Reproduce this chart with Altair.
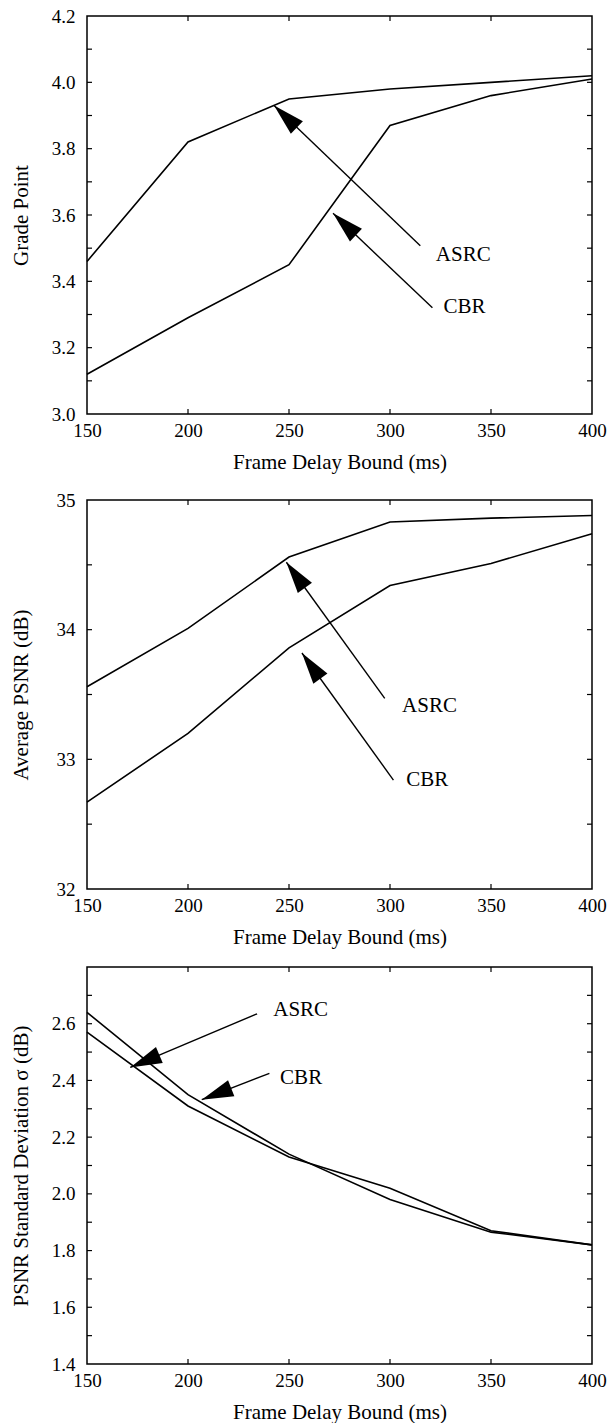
import math
import altair as alt
import pandas as pd

# ---------------- data ----------------
delay = [150, 200, 250, 300, 350, 400]

grade_asrc = [3.46, 3.82, 3.95, 3.98, 4.00, 4.02]
grade_cbr = [3.12, 3.29, 3.45, 3.87, 3.96, 4.01]

psnr_asrc = [33.56, 34.01, 34.56, 34.83, 34.86, 34.88]
psnr_cbr = [32.67, 33.20, 33.86, 34.34, 34.51, 34.74]

std_asrc = [2.57, 2.31, 2.13, 2.02, 1.87, 1.82]
std_cbr = [2.64, 2.35, 2.14, 1.98, 1.865, 1.82]

x_tick_marks = [200, 250, 300, 350]

grade_labels = [3.0, 3.2, 3.4, 3.6, 3.8, 4.0, 4.2]
grade_ticks = [3.1, 3.2, 3.3, 3.4, 3.5, 3.6, 3.7, 3.8, 3.9, 4.0, 4.1]
psnr_labels = [32, 33, 34, 35]
psnr_ticks = [32.5, 33, 33.5, 34, 34.5]
std_labels = [1.4, 1.6, 1.8, 2.0, 2.2, 2.4, 2.6]
std_ticks = [1.5, 1.6, 1.7, 1.8, 1.9, 2.0, 2.1, 2.2, 2.3, 2.4, 2.5, 2.6, 2.7]

# annotations: label, tail x, tail y, head x, head y, text x, text y
grade_arrows = [
    ["ASRC", 315, 3.507, 242.6, 3.93, 322.7, 3.48],
    ["CBR", 321, 3.32, 271.8, 3.605, 326.5, 3.323],
]
psnr_arrows = [
    ["ASRC", 297.4, 33.47, 248.7, 34.52, 306, 33.41],
    ["CBR", 301.7, 32.84, 256.4, 33.82, 308, 32.84],
]
std_arrows = [
    ["ASRC", 234.2, 2.635, 171.4, 2.446, 242.2, 2.647],
    ["CBR", 240.3, 2.425, 206.8, 2.332, 245.6, 2.41],
]

FONT = "Liberation Serif"
W = 505
ARROW_PATH = "M0,0L0.55,2L-0.55,2Z"


def panel(a_vals, b_vals, ymin, ymax, ylabels, yticks, fmt, ytitle, arrows, h):
    rows = [{"x": x, "y": v, "s": "ASRC"} for x, v in zip(delay, a_vals)]
    rows += [{"x": x, "y": v, "s": "CBR"} for x, v in zip(delay, b_vals)]
    df = pd.DataFrame(rows)

    xs = alt.Scale(domain=[150, 400], nice=False, zero=False)
    ys = alt.Scale(domain=[ymin, ymax], nice=False, zero=False)

    xaxis = alt.Axis(values=delay, format="d", ticks=False, domain=False, grid=False,
                     labelPadding=7, labelFlush=False, labelOverlap=False,
                     title="Frame Delay Bound (ms)",
                     titleY=48, titleBaseline="middle")
    yaxis = alt.Axis(values=ylabels, format=fmt, ticks=False, domain=False, grid=False,
                     labelPadding=12, labelOverlap=False, title=ytitle, titleX=-66,
                     titleY=h / 2, titleBaseline="middle")

    def X(f):
        return alt.X(f, scale=xs, axis=xaxis)

    def Y(f):
        return alt.Y(f, scale=ys, axis=yaxis)

    lines = alt.Chart(df).mark_line(color="black", strokeWidth=1.6).encode(
        x=X("x:Q"), y=Y("y:Q"), detail="s:N")

    ydf = pd.DataFrame({"t": yticks})
    xdf = pd.DataFrame({"t": x_tick_marks})
    left = alt.Chart(ydf).mark_rule(color="black", strokeWidth=1.2).encode(
        y=Y("t:Q"), x=alt.value(0), x2=alt.value(5))
    right = alt.Chart(ydf).mark_rule(color="black", strokeWidth=1.2).encode(
        y=Y("t:Q"), x=alt.value(W - 5), x2=alt.value(W))
    top = alt.Chart(xdf).mark_rule(color="black", strokeWidth=1.2).encode(
        x=X("t:Q"), y=alt.value(0), y2=alt.value(5))
    bottom = alt.Chart(xdf).mark_rule(color="black", strokeWidth=1.2).encode(
        x=X("t:Q"), y=alt.value(h - 5), y2=alt.value(h))

    px_x = W / 250.0
    px_y = h / (ymax - ymin)
    arows = []
    for lab, tx, ty, hx, hy, lx, ly in arrows:
        dx = (hx - tx) * px_x
        dy = -(hy - ty) * px_y
        ang = math.degrees(math.atan2(dx, -dy)) % 360
        arows.append({"lab": lab, "tx": tx, "ty": ty, "hx": hx, "hy": hy,
                      "lx": lx, "ly": ly, "ang": ang})
    adf = pd.DataFrame(arows)

    shafts = alt.Chart(adf).mark_rule(color="black", strokeWidth=1.4).encode(
        x=X("tx:Q"), y=Y("ty:Q"), x2="hx:Q", y2="hy:Q")
    heads = alt.Chart(adf).mark_point(shape=ARROW_PATH, filled=True, color="black",
                                      opacity=1, size=1000, strokeWidth=0).encode(
        x=X("hx:Q"), y=Y("hy:Q"), angle=alt.Angle("ang:Q", scale=None))
    texts = alt.Chart(adf).mark_text(align="left", baseline="middle", font=FONT,
                                     fontSize=21, color="black").encode(
        x=X("lx:Q"), y=Y("ly:Q"), text="lab:N")

    return alt.layer(lines, left, right, top, bottom, shafts, heads, texts).properties(
        width=W, height=h)


p1 = panel(grade_asrc, grade_cbr, 3.0, 4.2, grade_labels, grade_ticks, ".1f",
           "Grade Point", grade_arrows, 398)
p2 = panel(psnr_asrc, psnr_cbr, 32, 35, psnr_labels, psnr_ticks, "d",
           "Average PSNR (dB)", psnr_arrows, 389)
p3 = panel(std_asrc, std_cbr, 1.4, 2.8, std_labels, std_ticks, ".1f",
           "PSNR Standard Deviation σ (dB)", std_arrows, 397)

chart = alt.vconcat(p1, p2, p3, spacing=17).properties(
    padding={"left": 9, "top": 6, "right": 0, "bottom": 0},
    background="white",
).configure_view(
    stroke="black", strokeWidth=1.5
).configure_axis(
    labelFont=FONT, labelFontSize=19, labelColor="black",
    titleFont=FONT, titleFontSize=21, titleFontWeight="normal", titleColor="black",
)

chart.save("out.html", embed_options={"renderer": "svg", "actions": False})
